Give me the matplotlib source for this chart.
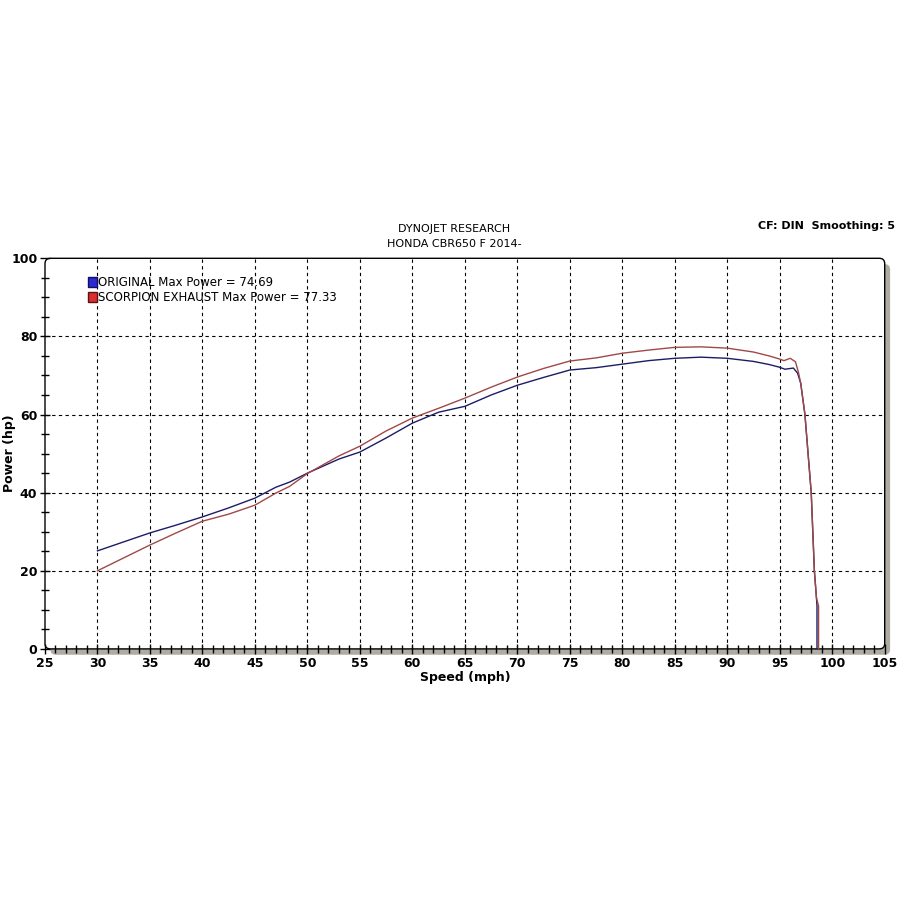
import matplotlib
matplotlib.use("Agg")
import matplotlib.pyplot as plt
from matplotlib.patches import FancyBboxPatch, Patch

# Dynojet run, original vs Scorpion exhaust
orig_x = [30, 32.5, 35, 37.5, 40, 42.5, 45, 47, 48.3, 50, 53, 55, 57.5, 60, 62.5, 65, 67.5, 70,
          72.5, 75, 77.5, 80, 82.5, 85, 87.5, 90, 92.5, 94, 95, 95.5, 96.3, 96.7, 97.0, 97.4,
          97.7, 98.0, 98.3, 98.5, 98.55, 98.55]
orig_hp = [25.1, 27.4, 29.7, 31.7, 33.8, 36.1, 38.6, 41.4, 42.7, 45.0, 48.6, 50.4, 54.0, 57.8,
           60.6, 62.1, 65.0, 67.5, 69.5, 71.4, 72.0, 72.9, 73.8, 74.4, 74.69, 74.4, 73.6, 72.8,
           72.1, 71.6, 71.9, 70.6, 68.0, 60.0, 50.0, 40.0, 20.0, 13.0, 11.0, 0]

scorp_x = [30, 32.5, 35, 37.5, 40, 42.5, 45, 47, 48.3, 50, 53, 55, 57.5, 60, 62.5, 65, 67.5, 70,
           72.5, 75, 77.5, 80, 82.5, 85, 87.5, 90, 92.5, 94, 95, 95.4, 96.0, 96.5, 96.8, 97.0,
           97.4, 97.7, 98.0, 98.3, 98.5, 98.7, 98.7]
scorp_hp = [20.0, 23.3, 26.6, 29.7, 32.7, 34.5, 36.8, 39.9, 41.6, 44.9, 49.4, 51.9, 55.8, 59.1,
            61.6, 64.2, 67.0, 69.6, 71.8, 73.7, 74.5, 75.7, 76.5, 77.2, 77.33, 77.0, 76.0, 75.0,
            74.2, 73.8, 74.4, 73.5, 70.6, 68.0, 60.0, 50.0, 40.0, 20.0, 13.0, 11.0, 0]

labels = ["ORIGINAL Max Power = 74.69", "SCORPION EXHAUST Max Power = 77.33"]

fig = plt.figure(figsize=(9, 9), dpi=100)
ax = fig.add_axes([0.050, 0.279, 0.933, 0.434])

# shadow + rounded frame, behind the axes
shadow = FancyBboxPatch((0.056, 0.2725), 0.933, 0.434, boxstyle="round,pad=0,rounding_size=0.006",
                        transform=fig.transFigure, facecolor="#aeaba3", edgecolor="none", zorder=-2)
frame = FancyBboxPatch((0.050, 0.279), 0.933, 0.434, boxstyle="round,pad=0,rounding_size=0.006",
                       transform=fig.transFigure, facecolor="white", edgecolor="black", lw=1, zorder=-1)
fig.patches.extend([shadow, frame])
ax.patch.set_visible(False)
for s in ax.spines.values():
    s.set_visible(False)

ax.plot(orig_x, orig_hp, color="#1c1c66", lw=1.0, zorder=3)
ax.plot(scorp_x, scorp_hp, color="#a04848", lw=1.0, zorder=3)

ax.set_xlim(25, 105)
ax.set_ylim(0, 100)
ax.set_xticks(range(25, 106, 5))
ax.set_xticks(range(25, 106, 1), minor=True)
ax.set_yticks(range(0, 101, 20))
ax.set_yticks(range(0, 101, 5), minor=True)
ax.tick_params(which="both", direction="inout", color="black", width=1)
ax.tick_params(which="major", length=7, labelsize=9, pad=2)
ax.tick_params(which="minor", length=6)
for t in ax.get_xticklabels() + ax.get_yticklabels():
    t.set_fontweight("bold")

for gx in range(30, 105, 5):
    ax.axvline(gx, color="black", lw=0.8, ls=(0, (3, 3)), zorder=1)
for gy in range(20, 100, 20):
    ax.axhline(gy, color="black", lw=0.8, ls=(0, (3, 3)), zorder=1)

ax.set_xlabel("Speed (mph)", fontsize=9, fontweight="bold", labelpad=1)
fig.text(0.003, 0.496, "Power (hp)", rotation=90, ha="left", va="center", fontsize=9, fontweight="bold")

handles = [Patch(facecolor="#2a2ad0", edgecolor="#101060"),
           Patch(facecolor="#d83030", edgecolor="#601010")]
ax.legend(handles, labels, loc="upper left", bbox_to_anchor=(0.045, 0.967), frameon=False,
          handlelength=0.8, handleheight=0.9, handletextpad=0.1, labelspacing=0.15,
          prop={"size": 8.5, "family": "DejaVu Sans"}, borderaxespad=0)

fig.text(0.505, 0.746, "DYNOJET RESEARCH", ha="center", va="center", fontsize=8)
fig.text(0.505, 0.729, "HONDA CBR650 F 2014-", ha="center", va="center", fontsize=8)
fig.text(0.995, 0.749, "CF: DIN  Smoothing: 5", ha="right", va="center", fontsize=8, fontweight="bold")

fig.savefig("out.png", dpi=100)
